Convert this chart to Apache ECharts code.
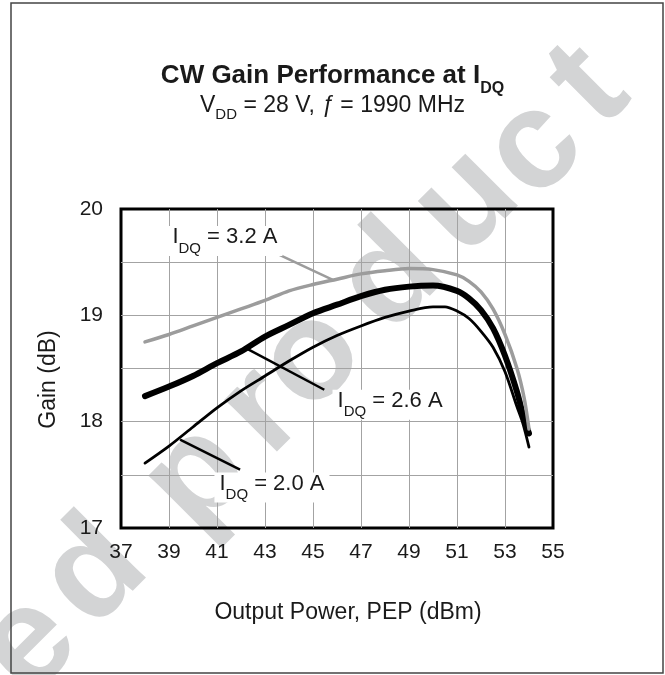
<!DOCTYPE html>
<html><head><meta charset="utf-8">
<script src="https://cdn.jsdelivr.net/npm/echarts@6/dist/echarts.min.js"></script>
<style>html,body{margin:0;padding:0;background:#fff}#c{width:665px;height:675px}</style>
</head><body><div id="c"></div>
<script>
// ---- data ----
const xTicks = [37, 39, 41, 43, 45, 47, 49, 51, 53, 55];
const yTicks = [17, 18, 19, 20];
const idq32 = [[38,18.75],[39,18.82],[40,18.90],[41,18.98],[42,19.06],[43,19.14],[44,19.23],[45,19.29],[46,19.34],[47,19.39],[48,19.42],[49,19.44],[50,19.43],[51,19.38],[51.5,19.32],[52,19.22],[52.5,19.06],[53,18.82],[53.5,18.50],[53.8,18.22],[54,17.93]];
const idq26 = [[38,18.24],[39,18.33],[40,18.43],[41,18.55],[42,18.66],[43,18.80],[44,18.91],[45,19.02],[46,19.10],[47,19.18],[48,19.24],[49,19.27],[50,19.28],[51,19.23],[51.5,19.16],[52,19.05],[52.5,18.88],[53,18.62],[53.5,18.28],[53.8,18.02],[54,17.89]];
const idq20 = [[38,17.61],[39,17.77],[40,17.95],[41,18.13],[42,18.29],[43,18.43],[44,18.57],[45,18.70],[46,18.81],[47,18.90],[48,18.98],[49,19.04],[50,19.08],[50.5,19.08],[51,19.04],[51.5,18.97],[52,18.85],[52.5,18.70],[53,18.47],[53.5,18.14],[53.75,17.98],[54,17.76]];
const leader32 = [[43.49,19.58],[45.85,19.33]];
const leader26 = [[42.30,18.68],[45.47,18.30]];
const leader20 = [[39.46,17.83],[41.96,17.55]];
const labelAt32 = [41.33,19.70];
const labelAt26 = [48.21,18.16];
const labelAt20 = [43.29,17.38];
const labelVal32 = '3.2 A';
const labelVal26 = '2.6 A';
const labelVal20 = '2.0 A';
const wmLetters = ['e','d','p','r','o','d','u','c','t'];

// ---- layout / style ----
const FF = '"Liberation Sans", Arial, Helvetica, sans-serif';
const TXT = '#1a1a1a';
const wmPos = [[22,638],[88,567],[190,470],[255,405],[305,352],[385,272],[460,195],[528,142],[583,80]];

const labRich = {
  m: {fontFamily: FF, fontSize: 22, lineHeight: 30, color: TXT, verticalAlign: 'top'},
  s: {fontFamily: FF, fontSize: 15, lineHeight: 15, color: TXT, padding: [15,0,0,0], verticalAlign: 'top'}
};

function curve(name, data, color, width, leader, leaderColor, labelAt, labelVal) {
  return {
    type: 'line', name: name, data: data, smooth: 0.3, symbol: 'none',
    lineStyle: {color: color, width: width, cap: 'round', join: 'round'},
    emphasis: {disabled: true},
    markLine: {
      silent: true, symbol: 'none', label: {show: false},
      lineStyle: {color: leaderColor, width: 2.5, type: 'solid'},
      emphasis: {disabled: true},
      data: [[{coord: leader[0]}, {coord: leader[1]}]]
    },
    markPoint: {
      silent: true, symbol: 'circle', symbolSize: 0,
      data: [{coord: labelAt}],
      label: {
        show: true, position: 'inside', color: TXT,
        backgroundColor: '#fff', padding: [0,5,0,5],
        formatter: '{m|I}{s|DQ}{m| = ' + labelVal + '}',
        rich: labRich
      }
    }
  };
}

const graphics = wmLetters.map((ch, i) => ({
  type: 'text', x: wmPos[i][0] + 7, y: wmPos[i][1] + 7, rotation: Math.PI / 4, z: -10, silent: true,
  style: {text: ch, fontFamily: FF, fontWeight: 'bold', fontSize: 140, fill: '#d3d4d5', align: 'center', verticalAlign: 'middle'}
}));
graphics.push({type: 'rect', shape: {x: 11, y: 3, width: 652, height: 670}, z: -5, silent: true,
  style: {fill: 'none', stroke: '#444', lineWidth: 1.5}});

const chart = echarts.init(document.getElementById('c'), null, {renderer: 'canvas'});
chart.setOption({
  animation: false,
  backgroundColor: '#fff',
  title: [
    {text: '{b|CW Gain Performance at I}{bs|DQ}', left: 'center', top: 63, padding: 0,
     textStyle: {rich: {
       b: {fontFamily: FF, fontWeight: 'bold', fontSize: 26, lineHeight: 34, color: TXT, verticalAlign: 'top'},
       bs: {fontFamily: FF, fontWeight: 'bold', fontSize: 16, lineHeight: 16, color: TXT, padding: [18,0,0,0], verticalAlign: 'top'}
     }}},
    {text: '{r|V}{s|DD}{r| = 28 V, }{i|ƒ}{r| = 1990 MHz}', left: 'center', top: 94, padding: 0,
     textStyle: {rich: {
       r: {fontFamily: FF, fontWeight: 'normal', fontSize: 23, lineHeight: 30, color: TXT, verticalAlign: 'top'},
       i: {fontFamily: FF, fontWeight: 'normal', fontStyle: 'italic', fontSize: 23, lineHeight: 30, color: TXT, verticalAlign: 'top'},
       s: {fontFamily: FF, fontWeight: 'normal', fontSize: 15, lineHeight: 15, color: TXT, padding: [13,0,0,0], verticalAlign: 'top'}
     }}}
  ],
  grid: {left: 121, right: 112, top: 209, bottom: 147, show: true, borderColor: '#000', borderWidth: 3, backgroundColor: 'transparent'},
  xAxis: {
    type: 'value', min: xTicks[0], max: xTicks[xTicks.length - 1], interval: 2,
    name: 'Output Power, PEP (dBm)', nameLocation: 'middle', nameGap: 73,
    nameTextStyle: {fontFamily: FF, fontSize: 23, color: TXT, padding: [0,0,0,22]},
    axisLine: {show: false}, axisTick: {show: false},
    axisLabel: {fontFamily: FF, fontSize: 21, color: TXT, margin: 14,
      formatter: v => xTicks.includes(v) ? String(v) : ''},
    splitLine: {show: true, showMinLine: false, showMaxLine: false, lineStyle: {color: '#a3a3a3', width: 1}}
  },
  yAxis: {
    type: 'value', min: yTicks[0], max: yTicks[yTicks.length - 1], interval: 0.5,
    name: 'Gain (dB)', nameLocation: 'middle', nameGap: 61,
    nameTextStyle: {fontFamily: FF, fontSize: 23, color: TXT, padding: [0,22,0,0]},
    axisLine: {show: false}, axisTick: {show: false},
    axisLabel: {fontFamily: FF, fontSize: 21, color: TXT, margin: 18,
      formatter: v => yTicks.includes(v) ? String(v) : ''},
    splitLine: {show: true, showMinLine: false, showMaxLine: false, lineStyle: {color: '#a3a3a3', width: 1}}
  },
  graphic: graphics,
  series: [
    curve('IDQ = 2.0 A', idq20, '#000', 2.8, leader20, '#000', labelAt20, labelVal20),
    curve('IDQ = 2.6 A', idq26, '#000', 6, leader26, '#000', labelAt26, labelVal26),
    curve('IDQ = 3.2 A', idq32, '#9c9c9c', 3.5, leader32, '#9c9c9c', labelAt32, labelVal32)
  ]
});
</script></body></html>
